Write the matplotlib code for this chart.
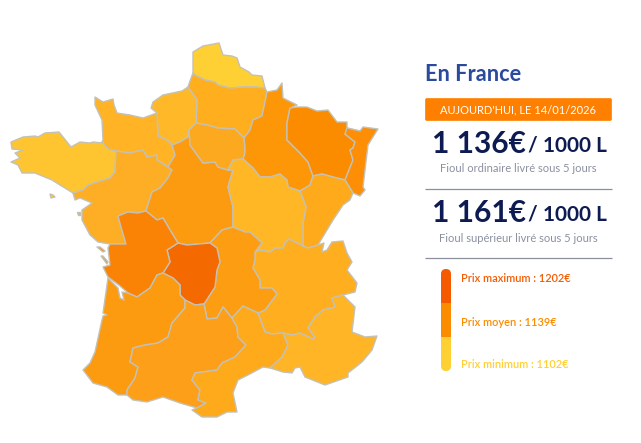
import matplotlib
matplotlib.use("Agg")
import matplotlib.pyplot as plt
from matplotlib.patches import Polygon, FancyBboxPatch, Rectangle

plt.rcParams['font.family'] = ['Lato', 'DejaVu Sans']

# ---- Map data: region outlines (image pixels) and shade
nord = [(193,52),(203,46),(219,43),(223,55),(232,56),(237,58),(240,67),(249,72),(252,75),(262,76),(265,88),(255,87),(243,87),(230,88),(218,85),(215,82),(205,80),(195,75),(193,73)]
picardie = [(193,73),(195,75),(205,80),(215,82),(218,85),(230,88),(243,87),(255,87),(265,88),(267,92),(265,102),(262,116),(253,120),(250,130),(244,138),(235,129),(218,128),(207,125),(196,123),(197,100),(188,87),(190,81)]
haute_normandie = [(188,87),(197,100),(196,123),(189,130),(188,137),(180,142),(172,145),(167,140),(158,136),(157,113),(151,108),(153,102),(163,95),(182,91)]
basse_normandie = [(95,97),(103,102),(113,99),(114,105),(117,113),(130,115),(143,118),(157,113),(158,136),(167,140),(172,145),(175,155),(168,167),(157,160),(157,155),(147,157),(143,150),(130,153),(116,151),(108,149),(102,142),(103,140),(102,120),(95,105)]
bretagne = [(11,142),(23,137),(35,136),(38,137),(45,133),(59,132),(63,137),(71,147),(80,142),(90,143),(93,142),(103,143),(102,142),(108,149),(116,151),(115,172),(110,178),(88,185),(83,190),(73,193),(60,185),(52,180),(35,173),(22,173),(18,165),(11,162),(20,158),(15,153),(23,150),(12,149)]
pays_loire = [(116,151),(130,153),(143,150),(147,157),(157,155),(157,160),(168,167),(172,170),(168,178),(160,188),(152,192),(146,211),(138,213),(128,212),(118,216),(121,227),(126,244),(110,244),(98,242),(90,235),(82,220),(82,210),(92,203),(80,198),(75,200),(73,193),(83,190),(88,185),(110,178),(115,172)]
centre = [(172,145),(180,142),(188,137),(189,130),(190,145),(203,163),(215,162),(218,167),(228,170),(233,170),(228,187),(233,207),(233,227),(222,230),(210,243),(187,245),(178,243),(170,230),(163,218),(157,220),(146,211),(152,192),(160,188),(168,178),(172,170),(168,167),(175,155)]
ile_de_france = [(196,123),(207,125),(218,128),(235,129),(244,138),(245,147),(245,153),(243,159),(233,160),(228,170),(218,167),(215,162),(203,163),(190,145),(189,130)]
champagne = [(267,92),(277,90),(282,83),(283,98),(297,105),(290,108),(287,123),(287,140),(300,153),(308,162),(313,176),(310,185),(300,191),(288,187),(287,180),(280,174),(270,177),(260,177),(253,168),(243,159),(245,153),(245,147),(244,138),(250,130),(253,120),(262,116),(265,102)]
lorraine = [(290,108),(297,107),(307,107),(317,111),(328,110),(337,122),(347,122),(347,128),(360,131),(345,134),(355,142),(353,148),(350,150),(353,160),(345,180),(333,177),(322,174),(313,176),(308,162),(300,153),(287,140),(287,123)]
alsace = [(347,128),(360,131),(363,127),(378,129),(368,145),(365,170),(363,187),(365,190),(360,196),(353,193),(345,180),(353,160),(350,150),(353,148),(355,142),(345,134)]
franche_comte = [(313,176),(322,174),(333,177),(345,180),(353,193),(350,200),(343,205),(333,220),(327,230),(318,245),(308,248),(303,246),(303,240),(303,227),(303,223),(306,207),(300,191),(310,185)]
bourgogne = [(233,160),(243,159),(253,168),(260,177),(270,177),(280,174),(287,180),(288,187),(300,191),(306,207),(303,223),(303,227),(303,240),(303,246),(289,239),(285,243),(283,248),(275,248),(270,252),(260,250),(255,252),(262,243),(250,232),(245,232),(233,227),(233,207),(228,187),(233,170),(228,170)]
rhone_alpes = [(255,252),(260,250),(270,252),(275,248),(283,248),(285,243),(289,239),(303,246),(308,248),(318,245),(324,243),(322,252),(327,250),(332,242),(343,241),(347,253),(352,262),(347,270),(357,283),(355,292),(343,295),(332,298),(335,307),(323,310),(315,317),(308,328),(315,337),(313,339),(300,333),(292,335),(283,333),(272,334),(265,332),(258,313),(265,310),(277,294),(272,288),(260,288),(260,280),(253,268),(255,260)]
auvergne = [(210,243),(222,230),(233,227),(245,232),(250,232),(262,243),(255,252),(255,260),(253,268),(260,280),(260,288),(272,288),(277,294),(265,310),(258,313),(243,306),(232,318),(223,307),(217,318),(207,319),(204,304),(215,287),(217,270),(220,262),(217,248)]
limousin = [(167,250),(178,243),(187,245),(210,243),(217,248),(220,262),(217,270),(215,287),(204,304),(195,305),(185,300),(180,295),(180,285),(173,278),(163,273),(170,262)]
poitou = [(110,244),(126,244),(121,227),(118,216),(128,212),(138,213),(146,211),(157,220),(163,218),(170,230),(178,243),(167,250),(170,262),(163,273),(157,275),(150,288),(137,297),(128,293),(120,286),(108,277),(103,267),(110,265),(108,248)]
aquitaine = [(108,278),(118,288),(120,298),(124,300),(122,292),(128,293),(137,297),(150,288),(157,275),(163,273),(173,278),(180,285),(180,295),(185,300),(185,308),(172,323),(168,337),(158,343),(145,345),(133,348),(130,362),(138,367),(135,378),(127,390),(127,395),(118,395),(107,387),(93,383),(83,370),(90,363),(95,352),(102,320),(103,316),(107,315),(103,313)]
midi_pyrenees = [(185,308),(185,300),(195,305),(204,304),(207,319),(217,318),(223,307),(232,318),(237,327),(238,337),(246,345),(235,357),(222,363),(217,370),(195,373),(192,380),(200,390),(198,400),(206,403),(197,408),(180,403),(163,397),(147,402),(133,400),(127,395),(127,390),(135,378),(138,367),(130,362),(133,348),(145,345),(158,343),(168,337),(172,323)]
languedoc = [(232,318),(243,306),(258,313),(265,332),(272,334),(283,333),(288,345),(282,357),(270,368),(263,367),(248,375),(238,380),(233,393),(237,412),(227,412),(217,417),(202,417),(192,410),(197,408),(206,403),(198,400),(200,390),(192,380),(195,373),(217,370),(222,363),(235,357),(246,345),(238,337),(237,327)]
paca = [(283,333),(292,335),(300,333),(313,339),(315,337),(308,328),(315,317),(323,310),(335,307),(332,298),(343,295),(355,307),(352,332),(365,337),(377,336),(372,350),(362,362),(348,373),(348,377),(325,385),(305,377),(300,367),(295,368),(292,373),(283,372),(270,368),(282,357),(288,345)]
ile_re = [(97,247),(100,247),(105,251),(103,252)]
ile_oleron = [(101,256),(103,256),(108,262),(107,264)]
belle_ile = [(50,194),(53,195),(55,197),(51,198)]
noirmoutier = [(77,212),(80,212),(80,215),(78,215)]

regions = [nord, picardie, haute_normandie, basse_normandie, bretagne, pays_loire, centre,
           ile_de_france, champagne, lorraine, alsace, franche_comte, bourgogne, rhone_alpes,
           auvergne, limousin, poitou, aquitaine, midi_pyrenees, languedoc, paca,
           ile_re, ile_oleron, belle_ile, noirmoutier]
region_colors = ['#FFD033', '#FFAE1E', '#FFB928', '#FFB325', '#FFC530', '#FDAE25', '#FD9B10',
                 '#FDA920', '#FD9708', '#FB8C00', '#FD8E05', '#FFAA1A', '#FFB726', '#FFAE20',
                 '#FD9E12', '#F56A00', '#FA8205', '#FD9B10', '#FD9F18', '#FFAA1A', '#FFB525',
                 '#FA8205', '#FA8205', '#FFC530', '#FDAE25']

# ---- Panel texts
title = "En France"
banner = "AUJOURD'HUI, LE 14/01/2026"
prices = ["1 136€", "1 161€"]
unit = "/ 1000 L"
captions = ["Fioul ordinaire livré sous 5 jours", "Fioul supérieur livré sous 5 jours"]
scale_labels = ["Prix maximum : 1202€", "Prix moyen : 1139€", "Prix minimum : 1102€"]
scale_colors = ['#F55A00', '#FB8C00', '#FFD033']

fig = plt.figure(figsize=(6.41, 4.43), dpi=100)
ax = fig.add_axes([0, 0, 1, 1])
ax.set_xlim(0, 641)
ax.set_ylim(443, 0)
ax.axis('off')

for outline, colour in zip(regions, region_colors):
    ax.add_patch(Polygon(outline, closed=True, facecolor=colour, edgecolor='#C4C1B6',
                         linewidth=1.0, joinstyle='round'))

navy = '#0D1B52'
ax.text(425, 74, title, fontsize=15.7, fontweight='bold', color='#2A4A9C', va='center', ha='left')
ax.add_patch(FancyBboxPatch((425.5, 98.5), 186, 22, boxstyle='round,pad=0,rounding_size=1.5',
                            facecolor='#FF8000', edgecolor='#FF8000', linewidth=0.5))
ax.text(518.5, 110, banner, fontsize=8, color='white', va='center', ha='center')

for y_price, y_cap, price, cap in zip([144, 213], [169, 238], prices, captions):
    ax.text(432, y_price, price, fontsize=21.5, fontweight='bold', color=navy, va='center', ha='left')
    ax.text(528, y_price + 1, unit, fontsize=15, fontweight='bold', color=navy, va='center', ha='left')
    ax.text(518.5, y_cap, cap, fontsize=8, color='#8A90A0', va='center', ha='center')

for y_line in [189, 258]:
    ax.plot([425, 612], [y_line, y_line], color='#8C909C', lw=0.9, solid_capstyle='butt')

# colour scale: three sections clipped by one rounded bar
bar = FancyBboxPatch((441, 269), 10, 102, boxstyle='round,pad=0,rounding_size=5',
                     facecolor='none', edgecolor='none')
ax.add_patch(bar)
for y0, y1, colour in zip([269, 303, 337], [303, 337, 371], scale_colors):
    r = Rectangle((441, y0), 10, y1 - y0, facecolor=colour, edgecolor='none')
    ax.add_patch(r)
    r.set_clip_path(bar)

for y_lab, lab, colour in zip([279, 323, 365], scale_labels, scale_colors):
    ax.text(461, y_lab, lab, fontsize=7.9, fontweight='semibold', color=colour, va='center', ha='left')

fig.savefig('out.png', dpi=100)
